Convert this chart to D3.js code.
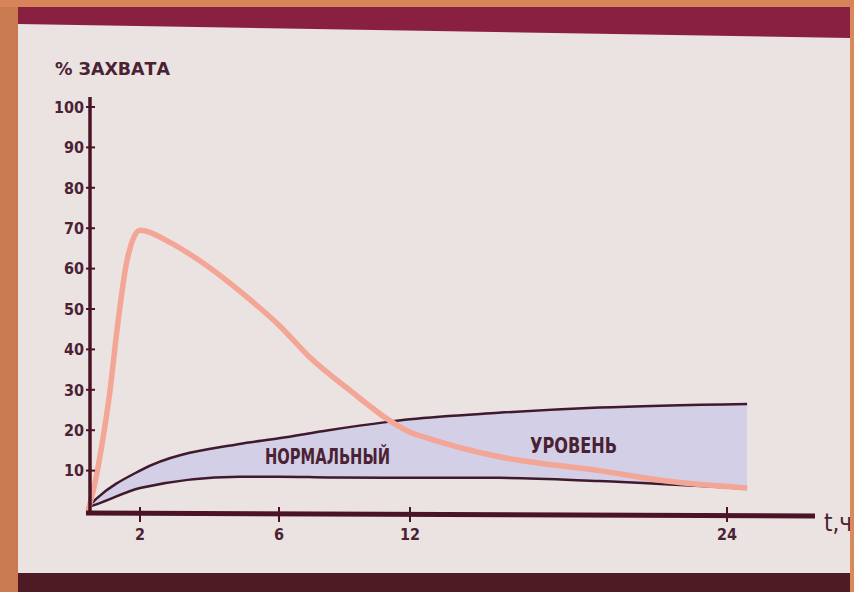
<!DOCTYPE html>
<head>
<meta charset="utf-8">
<script src="https://d3js.org/d3.v7.min.js"></script>
<style>
    body { margin:0; background:#d4825a; }
    text { font-family: "DejaVu Sans Condensed", "Liberation Sans Narrow", sans-serif; font-weight: bold; fill: #4a2233; }
    .tick { font-size: 16px; text-anchor: end; }
    .xtick { font-size: 16px; text-anchor: middle; }
    .band { fill: #d3cfe6; }
    .edge { fill: none; stroke: #3e1a2c; stroke-width: 2.5; }
    .peak { fill: none; stroke: #f3a596; stroke-width: 5.5; stroke-linejoin: round; }
    .axis { stroke: #4a1426; }
</style>
</head>
<body>
<script>
    // % захвата over time
    var peakT = [0, 0.3, 0.55, 0.85, 1.12, 1.5, 2, 2.86, 3.71, 5.14, 6, 7.42, 9.26, 11.09, 12, 12.69, 15.24, 19.16, 21.7, 24.76];
    var peakV = [0, 8, 17, 30, 45, 62, 69.5, 66.5, 62, 52.5, 46, 38, 29.8, 22.3, 19.5, 18, 13.6, 10, 7.4, 5.7];

    // normal range band
    var bandT = [0, 0.35, 2, 4.86, 6, 8.27, 10.9, 12, 15.35, 19.16, 24.76];
    var bandHigh = [1, 3.2, 10, 16.6, 18, 20, 22, 22.7, 24.3, 25.6, 26.5];
    var bandLow = [1, 1.7, 5.7, 8.5, 8.5, 8.3, 8.2, 8.2, 8.2, 7.4, 5.5];

    var yTicks = [10, 20, 30, 40, 50, 60, 70, 80, 90, 100];
    var xTicks = [2, 6, 12, 24];

    var width = 854, height = 592;

    var svg = d3.select("body").append("svg")
        .attr("width", width)
        .attr("height", height);

    // slide background
    svg.append("rect").attr("x", 18).attr("y", 7).attr("width", 832).attr("height", 585).attr("fill", "#ebe2e2");
    svg.append("path").attr("d", "M18,7 L850,7 L850,38 L18,24 Z").attr("fill", "#8a2041");
    svg.append("rect").attr("x", 18).attr("y", 573).attr("width", 832).attr("height", 19).attr("fill", "#4e1a24");

    // hand drawn x axis is uneven, so piecewise scale
    var x = d3.scaleLinear().domain([0, 2, 6, 12, 24]).range([88, 140, 279, 410, 727]);
    var y = d3.scaleLinear().domain([0, 100]).range([511, 107]);

    var band = bandT.map((t, i) => ({ t: t, hi: bandHigh[i], lo: bandLow[i] }));
    var peak = peakT.map((t, i) => ({ t: t, v: peakV[i] }));

    svg.append("path").datum(band).attr("class", "band")
        .attr("d", d3.area().curve(d3.curveMonotoneX).x(d => x(d.t)).y0(d => y(d.lo)).y1(d => y(d.hi)));
    svg.append("path").datum(band).attr("class", "edge")
        .attr("d", d3.line().curve(d3.curveMonotoneX).x(d => x(d.t)).y(d => y(d.hi)));
    svg.append("path").datum(band).attr("class", "edge")
        .attr("d", d3.line().curve(d3.curveMonotoneX).x(d => x(d.t)).y(d => y(d.lo)));

    svg.append("text").attr("x", 265).attr("y", 464).style("font-size", "22px")
        .attr("textLength", 125).attr("lengthAdjust", "spacingAndGlyphs").text("НОРМАЛЬНЫЙ");
    svg.append("text").attr("x", 530).attr("y", 453).style("font-size", "21px")
        .attr("textLength", 87).attr("lengthAdjust", "spacingAndGlyphs").text("УРОВЕНЬ");

    svg.append("path").datum(peak).attr("class", "peak")
        .attr("d", d3.line().curve(d3.curveMonotoneX).x(d => x(d.t)).y(d => y(d.v)));

    // axes
    svg.append("line").attr("class", "axis").attr("x1", 90).attr("x2", 90)
        .attr("y1", 97).attr("y2", y(0) + 4).attr("stroke-width", 3.5);
    svg.append("line").attr("class", "axis").attr("x1", 86).attr("x2", 815)
        .attr("y1", y(0) + 2).attr("y2", y(0) + 5).attr("stroke-width", 5);

    svg.selectAll(".ytk").data(yTicks).enter().append("line")
        .attr("class", "axis").attr("x1", 86).attr("x2", 95)
        .attr("y1", d => y(d)).attr("y2", d => y(d)).attr("stroke-width", 2);
    svg.selectAll(".tick").data(yTicks).enter().append("text")
        .attr("class", "tick").attr("x", 84).attr("y", d => y(d)).attr("dy", "0.36em")
        .text(d => d);

    svg.selectAll(".xtk").data(xTicks).enter().append("line")
        .attr("class", "axis").attr("x1", d => x(d)).attr("x2", d => x(d))
        .attr("y1", y(0) - 4).attr("y2", y(0) + 11).attr("stroke-width", 2);
    svg.selectAll(".xtick").data(xTicks).enter().append("text")
        .attr("class", "xtick").attr("x", d => x(d)).attr("y", y(0) + 29)
        .text(d => d);

    svg.append("text").attr("x", 55).attr("y", 75).style("font-size", "18px")
        .attr("textLength", 115).attr("lengthAdjust", "spacingAndGlyphs").text("% ЗАХВАТА");
    svg.append("text").attr("x", 824).attr("y", 531).style("font-size", "24px").style("font-weight", "normal").text("t,ч");

    // orange frame over everything
    svg.append("rect").attr("x", 0).attr("y", 0).attr("width", 18).attr("height", height).attr("fill", "#c97a50");
    svg.append("rect").attr("x", 850).attr("y", 0).attr("width", 4).attr("height", height).attr("fill", "#d98a5a");
    svg.append("rect").attr("x", 0).attr("y", 0).attr("width", width).attr("height", 7).attr("fill", "#d8845a");
</script>
</body>
